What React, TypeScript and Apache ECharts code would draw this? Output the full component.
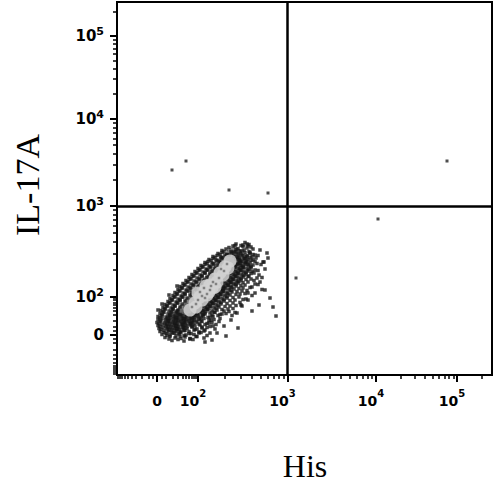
import React, { useEffect, useRef } from "react";
import * as echarts from "echarts";

// Display scale (channel units) for each axis, and the fluorescence value -> channel anchors
const X_CH_MAX = 750;
const Y_CH_MAX = 746;
const X_ZERO_CH = 80;
const Y_ZERO_CH = 80;
const X_ANCHORS: [number, number][] = [[100, 162], [1000, 341], [10000, 518], [100000, 680], [262144, 750]];
const Y_ANCHORS: [number, number][] = [[100, 157], [1000, 338], [10000, 512], [100000, 679], [262144, 746]];

// Tick labels (fluorescence values)
const MAJOR_VALUES = [0, 100, 1000, 10000, 100000];
const MAJOR_LABELS: [string, string][] = [["0", ""], ["10", "2"], ["10", "3"], ["10", "4"], ["10", "5"]];
const MINOR_VALUES = [
  -100, -90, -80, -70, -60, -50, -40, -30, -20, -10, -5, 5,
  10, 20, 30, 40, 50, 60, 70, 80, 90,
  200, 300, 400, 500, 600, 700, 800, 900,
  2000, 3000, 4000, 5000, 6000, 7000, 8000, 9000,
  20000, 30000, 40000, 50000, 60000, 70000, 80000, 90000, 200000,
];

// Quadrant gates (fluorescence values)
const GATE_X = 1000;
const GATE_Y = 1000;

// Events, in channel units: rows of [x channels], [y channels]
const CLOUD_ROWS: [number[], number[]][] = [
  [[238, 248, 256, 264], [262, 259, 265, 261]],
  [[224, 232, 242, 252, 260, 268], [255, 258, 253, 257, 254, 256]],
  [[210, 218, 228, 238, 246, 254, 264, 272], [249, 252, 247, 251, 248, 250, 247, 252]],
  [[202, 210, 220, 230, 238, 248, 256, 266, 276], [243, 245, 241, 244, 246, 242, 245, 243, 240]],
  [[192, 200, 208, 216, 234, 244, 252, 260, 270, 282], [237, 239, 236, 240, 238, 235, 239, 237, 236, 239]],
  [[184, 192, 200, 208, 238, 246, 254, 262, 272], [231, 233, 230, 234, 232, 229, 233, 231, 230]],
  [[176, 182, 190, 198, 206, 242, 250, 258, 266, 276, 294], [225, 227, 224, 228, 226, 223, 227, 225, 224, 227, 226]],
  [[168, 176, 184, 192, 202, 232, 240, 248, 256, 264, 272, 288], [219, 221, 218, 222, 220, 217, 221, 219, 222, 218, 220, 221]],
  [[162, 170, 178, 186, 196, 228, 236, 244, 252, 260, 268], [213, 215, 212, 216, 214, 211, 215, 213, 216, 212, 214]],
  [[156, 164, 172, 180, 190, 222, 230, 238, 246, 254, 262, 270, 282], [207, 209, 206, 210, 208, 205, 209, 207, 210, 206, 208, 207, 209]],
  [[150, 158, 166, 176, 186, 218, 226, 234, 242, 250, 258, 268], [201, 203, 200, 204, 202, 199, 203, 201, 204, 200, 202, 203]],
  [[144, 152, 160, 170, 180, 212, 220, 228, 236, 244, 252, 262, 290], [195, 197, 194, 198, 196, 193, 197, 195, 198, 194, 196, 197, 195]],
  [[138, 146, 154, 164, 174, 208, 216, 224, 232, 240, 248, 258, 274], [189, 191, 188, 192, 190, 187, 191, 189, 192, 188, 190, 191, 189]],
  [[132, 140, 148, 158, 168, 202, 210, 218, 226, 234, 242, 252, 282], [183, 185, 182, 186, 184, 181, 185, 183, 186, 182, 184, 185, 181]],
  [[126, 134, 142, 152, 162, 198, 206, 214, 222, 230, 238, 248, 266], [177, 179, 176, 180, 178, 175, 179, 177, 180, 176, 178, 179, 175]],
  [[122, 130, 138, 146, 156, 192, 200, 208, 216, 224, 234, 244, 260, 290], [171, 173, 170, 174, 172, 169, 173, 171, 174, 170, 172, 173, 169, 171]],
  [[116, 124, 132, 140, 150, 188, 196, 204, 212, 220, 230, 240, 256], [165, 167, 164, 168, 166, 163, 167, 165, 168, 164, 166, 167, 163]],
  [[112, 120, 128, 136, 146, 182, 190, 198, 206, 216, 226, 238, 270], [159, 161, 158, 162, 160, 157, 161, 159, 162, 158, 160, 161, 159]],
  [[106, 114, 122, 130, 140, 178, 186, 194, 202, 210, 220, 232, 252], [153, 155, 152, 156, 154, 151, 155, 153, 156, 152, 154, 155, 151]],
  [[102, 110, 118, 126, 136, 172, 180, 188, 196, 204, 214, 226, 246], [147, 149, 146, 150, 148, 145, 149, 147, 150, 146, 148, 149, 145]],
  [[96, 104, 112, 120, 130, 166, 174, 182, 190, 198, 208, 220, 238], [141, 143, 140, 144, 142, 139, 143, 141, 144, 140, 142, 143, 139]],
  [[92, 100, 108, 116, 126, 162, 170, 178, 186, 194, 204, 216, 232, 312], [135, 137, 134, 138, 136, 133, 137, 135, 138, 134, 136, 137, 133, 136]],
  [[88, 96, 104, 112, 122, 156, 164, 172, 180, 190, 200, 210, 224], [129, 131, 128, 132, 130, 127, 131, 129, 132, 128, 130, 131, 127]],
  [[86, 94, 102, 110, 118, 126, 152, 160, 168, 176, 186, 196, 206, 218], [123, 125, 122, 126, 124, 121, 125, 123, 126, 122, 124, 125, 121, 123]],
  [[82, 90, 98, 106, 114, 122, 130, 138, 146, 154, 162, 172, 182, 192, 202, 318], [117, 119, 116, 120, 118, 115, 119, 117, 120, 116, 118, 119, 115, 117, 119, 118]],
  [[82, 90, 98, 106, 114, 122, 130, 138, 146, 154, 164, 174, 184, 194], [111, 113, 110, 114, 112, 109, 113, 111, 114, 110, 112, 113, 109, 111]],
  [[80, 88, 96, 104, 112, 120, 128, 136, 144, 152, 160, 170, 180, 190], [105, 107, 104, 108, 106, 103, 107, 105, 108, 104, 106, 107, 103, 105]],
  [[82, 90, 98, 106, 114, 122, 130, 138, 146, 156, 166, 176, 186], [99, 101, 98, 102, 100, 97, 101, 99, 102, 98, 100, 101, 97]],
  [[84, 92, 100, 108, 116, 124, 132, 140, 150, 160, 170, 180], [93, 95, 92, 96, 94, 91, 95, 93, 96, 92, 94, 95]],
  [[86, 94, 102, 110, 118, 126, 134, 144, 154, 164, 174], [87, 89, 86, 90, 88, 85, 89, 87, 90, 86, 88]],
  [[90, 98, 106, 114, 124, 134, 144, 154, 164], [81, 83, 80, 84, 82, 79, 83, 81, 84]],
  [[96, 106, 116, 126, 136, 146, 158], [75, 77, 74, 78, 76, 73, 77]],
  [[110, 122, 134, 146], [69, 71, 68, 72]],
  [[242, 176, 302, 286], [94, 66, 234, 186]],
];

// Additional events between the rows above (channel units)
const CLOUD_FILL_ROWS: [number[], number[]][] = [
  [[236, 252, 262], [259, 260, 258]],
  [[214, 234, 250, 266], [247, 246, 248, 245]],
  [[206, 224, 242, 260, 272], [241, 240, 242, 239, 241]],
  [[196, 212, 240, 256, 266, 278], [235, 234, 236, 233, 235, 234]],
  [[188, 204, 244, 258, 268], [229, 228, 230, 227, 229]],
  [[180, 194, 246, 262, 280], [223, 222, 224, 221, 223]],
  [[172, 188, 236, 252, 268], [217, 216, 218, 215, 217]],
  [[166, 182, 232, 248, 264, 276], [211, 210, 212, 209, 211, 210]],
  [[160, 176, 226, 242, 258, 274], [205, 204, 206, 203, 205, 204]],
  [[154, 170, 222, 238, 254, 264], [199, 198, 200, 197, 199, 198]],
  [[148, 166, 216, 232, 248, 268, 280], [193, 192, 194, 191, 193, 192, 194]],
  [[142, 160, 212, 228, 244, 262], [187, 186, 188, 185, 187, 186]],
  [[136, 154, 206, 222, 238, 256, 276], [181, 180, 182, 179, 181, 180, 182]],
  [[130, 148, 196, 212, 228, 252, 270], [175, 174, 176, 173, 175, 174, 176]],
  [[126, 144, 196, 212, 228, 250], [169, 168, 170, 167, 169, 168]],
  [[120, 136, 192, 208, 222, 246, 262], [163, 162, 164, 161, 163, 162, 164]],
  [[116, 132, 186, 202, 220, 244], [157, 156, 158, 155, 157, 156]],
  [[110, 126, 182, 198, 214, 236, 258], [151, 150, 152, 149, 151, 150, 152]],
  [[106, 122, 176, 192, 208, 232], [145, 144, 146, 143, 145, 144]],
  [[100, 116, 170, 186, 202, 226, 248], [139, 138, 140, 137, 139, 138, 140]],
  [[96, 112, 166, 182, 198, 222], [133, 132, 134, 131, 133, 132]],
  [[92, 108, 120, 160, 176, 194, 214, 236], [127, 126, 128, 125, 127, 126, 128, 125]],
  [[90, 106, 122, 156, 172, 190, 210, 230], [121, 120, 122, 119, 121, 120, 122, 119]],
  [[86, 102, 118, 134, 150, 168, 186, 206], [115, 114, 116, 113, 115, 114, 116, 113]],
  [[86, 102, 118, 134, 150, 168, 188, 204], [109, 108, 110, 107, 109, 108, 110, 107]],
  [[84, 100, 116, 132, 148, 164, 184, 198], [103, 102, 104, 101, 103, 102, 104, 101]],
  [[86, 102, 118, 134, 150, 170, 192], [97, 96, 98, 95, 97, 96, 98]],
  [[88, 104, 120, 136, 156, 176, 196], [91, 90, 92, 89, 91, 90, 92]],
  [[94, 110, 128, 148, 168, 186], [85, 84, 86, 83, 85, 84]],
  [[100, 118, 138, 160, 180], [79, 78, 80, 77, 79]],
  [[104, 128, 152, 174], [72, 73, 71, 74]],
  [[200, 214, 228, 240, 250, 262, 276, 284, 296, 300, 286, 260, 218, 190], [84, 98, 110, 124, 138, 150, 164, 200, 212, 244, 250, 262, 78, 70]],
  [[82, 90, 104, 120, 296, 306, 284, 270, 292], [130, 142, 160, 178, 170, 154, 140, 128, 226]],
];

// Dense-population shading (channel units)
const DENSE_MID: [number, number][] = [
  [126, 114], [138, 126], [150, 140], [162, 154], [174, 168], [186, 182], [198, 196], [210, 210],
  [222, 224], [234, 238], [118, 98], [146, 114], [166, 134], [190, 158], [214, 186], [238, 214],
  [110, 104], [132, 108], [156, 124], [178, 146], [202, 170], [226, 196], [246, 226],
];
const DENSE_CORE: [number, number][] = [
  [146, 130], [156, 144], [166, 156], [176, 168], [186, 180], [196, 192], [206, 204], [216, 216],
  [226, 228], [170, 150], [190, 174], [158, 136], [180, 160], [200, 186], [212, 200], [222, 214],
  [162, 164], [178, 178], [184, 166], [196, 176],
];
const CORE_SPECKS: [number, number][] = [
  [166, 166], [174, 174], [180, 162], [162, 150], [192, 186], [204, 194], [170, 158], [186, 170],
  [198, 182], [158, 142], [214, 208], [176, 154], [188, 178], [208, 212], [150, 136], [220, 222],
];

// Sparse events outside the main population (channel units)
const OUTLIERS: [number, number][] = [
  [110, 410], [138, 428], [224, 370], [302, 364], [660, 428], [522, 312], [358, 194],
];

function toChannel(v: number, zero: number, anchors: [number, number][]): number {
  const c100 = anchors[0][1];
  if (Math.abs(v) <= 100) {
    return zero + Math.sign(v) * (c100 - zero) * Math.asinh(Math.abs(v) / 20) / Math.asinh(5);
  }
  for (let i = 0; i < anchors.length - 1; i++) {
    const [v0, c0] = anchors[i];
    const [v1, c1] = anchors[i + 1];
    if (v <= v1 || i === anchors.length - 2) {
      return c0 + ((c1 - c0) * (Math.log10(v) - Math.log10(v0))) / (Math.log10(v1) - Math.log10(v0));
    }
  }
  return zero;
}

const xCh = (v: number) => toChannel(v, X_ZERO_CH, X_ANCHORS);
const yCh = (v: number) => toChannel(v, Y_ZERO_CH, Y_ANCHORS);

function makeFormatter(chOf: (v: number) => number) {
  const chs = MAJOR_VALUES.map(chOf);
  return (val: number) => {
    let best = 0;
    chs.forEach((c, i) => {
      if (Math.abs(c - val) < Math.abs(chs[best] - val)) best = i;
    });
    const [b, e] = MAJOR_LABELS[best];
    return e ? `{base|${b}}{sup|${e}}` : `{zero|${b}}`;
  };
}

const FONT = '"DejaVu Sans", Verdana, sans-serif';

function rowsToPoints(rows: [number[], number[]][]): [number, number][] {
  const pts: [number, number][] = [];
  rows.forEach(([xs, ys]) => xs.forEach((x, i) => pts.push([x, ys[i]])));
  return pts;
}

export default function App() {
  const ref = useRef<HTMLDivElement>(null);
  useEffect(() => {
    if (!ref.current) return;
    const chart = echarts.init(ref.current, undefined, { renderer: "svg" });
    const cloud = rowsToPoints(CLOUD_ROWS).concat(rowsToPoints(CLOUD_FILL_ROWS));

    const xMajor = MAJOR_VALUES.map(xCh);
    const yMajor = MAJOR_VALUES.map(yCh);
    const xMinor = MINOR_VALUES.map(xCh).filter((c) => c >= 0 && c <= X_CH_MAX);
    const yMinor = MINOR_VALUES.map(yCh).filter((c) => c >= 0 && c <= Y_CH_MAX);

    const tickStyle = { color: "#000", width: 1.5 };
    const option: any = {
      animation: false,
      backgroundColor: "#fff",
      textStyle: { fontFamily: FONT },
      grid: { left: 117, top: 2, width: 375, height: 373, show: true, borderColor: "#000", borderWidth: 2 },
      xAxis: [
        {
          type: "value", min: 0, max: X_CH_MAX, position: "bottom",
          axisLine: { show: true, lineStyle: { color: "#000", width: 2 } },
          axisTick: { show: true, customValues: xMajor, length: 7, lineStyle: { color: "#000", width: 2 } },
          splitLine: { show: false },
          axisLabel: {
            show: true, customValues: xMajor, formatter: makeFormatter(xCh), margin: 13,
            fontSize: 14, fontFamily: FONT, fontWeight: "bold", color: "#000",
            padding: [0, 10, 0, 0],
            rich: {
              base: { fontSize: 14, fontFamily: FONT, fontWeight: "bold", color: "#000", lineHeight: 26 },
              sup: { fontSize: 10, fontFamily: FONT, fontWeight: "bold", color: "#000", verticalAlign: "top" },
              zero: { fontSize: 14, fontFamily: FONT, fontWeight: "bold", color: "#000", lineHeight: 26, padding: [0, 0, 0, 10] },
            },
          },
        },
        {
          type: "value", min: 0, max: X_CH_MAX, position: "bottom",
          axisLine: { show: false },
          axisTick: { show: true, customValues: xMinor, length: 4, lineStyle: tickStyle },
          splitLine: { show: false },
          axisLabel: { show: false },
        },
      ],
      yAxis: [
        {
          type: "value", min: 0, max: Y_CH_MAX, position: "left",
          axisLine: { show: true, lineStyle: { color: "#000", width: 2 } },
          axisTick: { show: true, customValues: yMajor, length: 7, lineStyle: { color: "#000", width: 2 } },
          splitLine: { show: false },
          axisLabel: {
            show: true, customValues: yMajor, formatter: makeFormatter(yCh), margin: 13,
            fontSize: 15, fontFamily: FONT, fontWeight: "bold", color: "#000",
            rich: {
              base: { fontSize: 15, fontFamily: FONT, fontWeight: "bold", color: "#000", lineHeight: 20 },
              sup: { fontSize: 11, fontFamily: FONT, fontWeight: "bold", color: "#000", verticalAlign: "top" },
              zero: { fontSize: 15, fontFamily: FONT, fontWeight: "bold", color: "#000", lineHeight: 20 },
            },
          },
        },
        {
          type: "value", min: 0, max: Y_CH_MAX, position: "left",
          axisLine: { show: false },
          axisTick: { show: true, customValues: yMinor, length: 4, lineStyle: tickStyle },
          splitLine: { show: false },
          axisLabel: { show: false },
        },
      ],
      graphic: [
        {
          type: "text", x: 27, y: 185, rotation: Math.PI / 2,
          style: { text: "IL-17A", font: '34px "Liberation Serif", "Times New Roman", serif', fill: "#000", align: "center", verticalAlign: "middle" },
        },
        {
          type: "text", x: 305, y: 466,
          style: { text: "His", font: '32px "Liberation Serif", "Times New Roman", serif', fill: "#000", align: "center", verticalAlign: "middle" },
        },
      ],
      series: [
        { type: "scatter", data: DENSE_MID, symbol: "circle", symbolSize: 18, itemStyle: { color: "#5c5c5c" }, silent: true },
        { type: "scatter", data: cloud, symbol: "rect", symbolSize: 3.5, itemStyle: { color: "#151515" }, silent: true },
        { type: "scatter", data: DENSE_CORE, symbol: "circle", symbolSize: 13, itemStyle: { color: "#d2d2d2", opacity: 0.85 }, silent: true },
        { type: "scatter", data: CORE_SPECKS, symbol: "rect", symbolSize: 2.5, itemStyle: { color: "#6e6e6e" }, silent: true },
        {
          type: "scatter", data: OUTLIERS, symbol: "rect", symbolSize: 3, itemStyle: { color: "#222" }, silent: true,
          markLine: {
            silent: true, symbol: "none", animation: false, label: { show: false },
            lineStyle: { color: "#000", width: 2.5, type: "solid" },
            data: [{ xAxis: xCh(GATE_X) }, { yAxis: yCh(GATE_Y) }],
          },
        },
      ],
    };
    chart.setOption(option);
    return () => chart.dispose();
  }, []);
  return <div ref={ref} style={{ position: "fixed", left: 0, top: 0, width: 494, height: 493, background: "#fff" }} />;
}
